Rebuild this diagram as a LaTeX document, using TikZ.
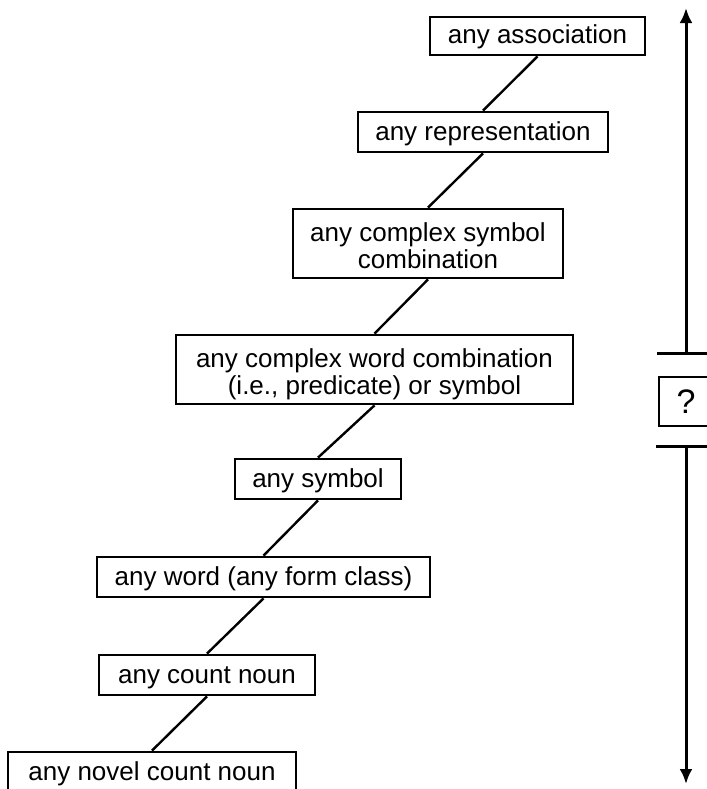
\documentclass[tikz,border=0pt]{standalone}
\usepackage{fontspec}
\setmainfont{Liberation Sans}
\usetikzlibrary{arrows.meta}
\newcommand{\onestrut}{\rule[-6pt]{0pt}{20pt}}
\newcommand{\topboxstrut}{\rule[-6pt]{0pt}{19pt}}
\newcommand{\firststrut}{\rule{0pt}{16pt}}
\newcommand{\laststrut}{\rule[-5pt]{0pt}{0pt}}
\tikzset{
  box/.style={draw=black, line width=1.4pt, inner sep=0pt, align=center,
    font=\fontsize{13pt}{13.5pt}\selectfont, text=black},
  link/.style={line width=1.2pt},
  axis/.style={line width=1.5pt, -{Latex[length=7.5pt,width=6.5pt]}},
  bar/.style={line width=1.5pt}
}
\begin{document}
\begin{tikzpicture}[x=0.5pt, y=-0.5pt]
\useasboundingbox (0,0) rectangle (707,789);
% boxes
\node[box, minimum width=107.5pt] (a1) at (537.5,36) {\topboxstrut any association};
\node[box, minimum width=125pt] (a2) at (483,132) {\onestrut any representation};
\node[box, minimum width=135pt] (a3) at (428,243.5) {\firststrut any complex symbol\\combination\laststrut};
\node[box, minimum width=198.5pt] (a4) at (374.5,369.5) {\firststrut any complex word combination\\(i.e., predicate) or symbol\laststrut};
\node[box, minimum width=83pt] (a5) at (318,479) {\onestrut any symbol};
\node[box, minimum width=166.5pt] (a6) at (263.5,577) {\onestrut any word (any form class)};
\node[box, minimum width=108pt] (a7) at (207,675) {\onestrut any count noun};
\node[box, minimum width=144pt] (a8) at (152,772) {\onestrut any novel count noun};
% connectors
\draw[link] (a1.south) -- (a2.north);
\draw[link] (a2.south) -- (a3.north);
\draw[link] (a3.south) -- (a4.north);
\draw[link] (a4.south) -- (a5.north);
\draw[link] (a5.south) -- (a6.north);
\draw[link] (a6.south) -- (a7.north);
\draw[link] (a7.south) -- (a8.north);
% right-hand scale
\coordinate (tipTop) at (686,8);
\coordinate (tipBot) at (686,784);
\coordinate (barTop) at (686,353);
\coordinate (barTopL) at (657,353);
\coordinate (barTopR) at (715,353);
\coordinate (barBot) at (686,446);
\coordinate (barBotL) at (656,446);
\coordinate (barBotR) at (716,446);
\node[box, minimum width=27pt, minimum height=24.5pt, font=\fontsize{17pt}{17pt}\selectfont] (q) at (686,401.5) {?};
\draw[axis] (barTop) -- (tipTop);
\draw[axis] (barBot) -- (tipBot);
\draw[bar] (barTopL) -- (barTopR);
\draw[bar] (barBotL) -- (barBotR);
\end{tikzpicture}
\end{document}
